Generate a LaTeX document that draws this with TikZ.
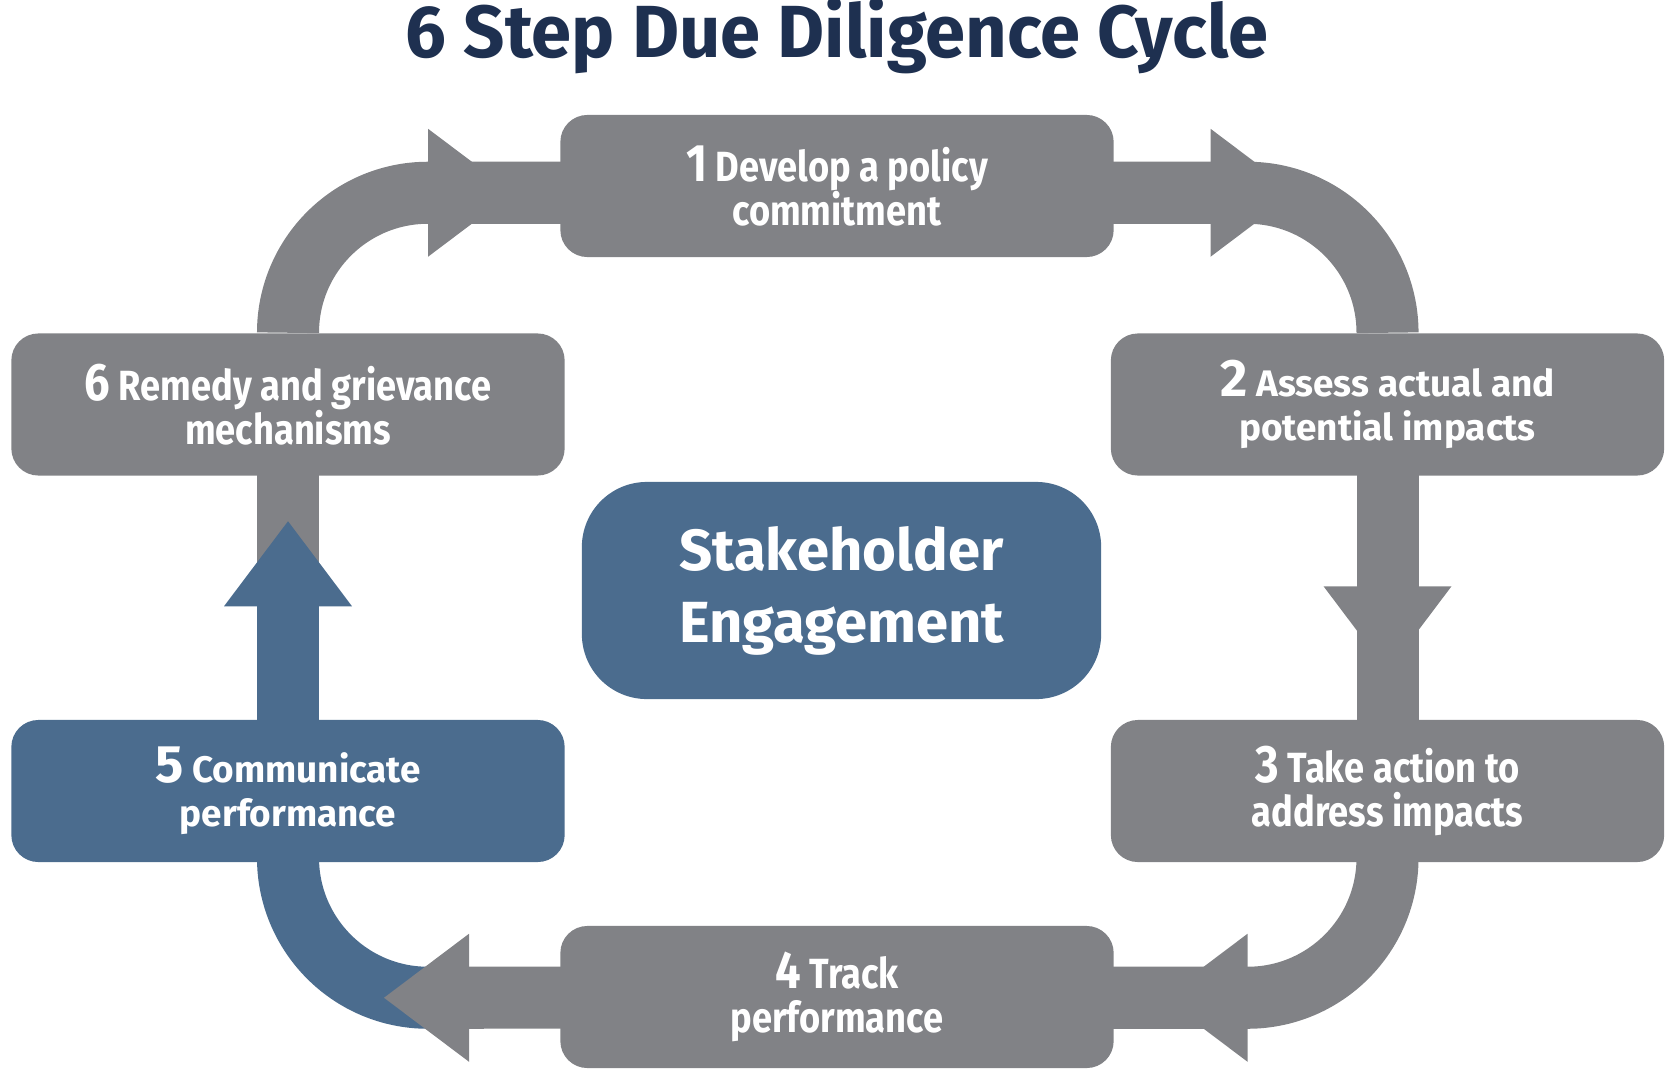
\documentclass[tikz,border=0pt]{standalone}
\usepackage{fontspec}
\setmainfont{Fira Sans}
\newfontfamily\condfont{Fira Sans}[FakeStretch=0.86]
\newfontfamily\titlefont{Fira Sans}[FakeStretch=0.98]
\usetikzlibrary{calc,backgrounds}
\definecolor{stepgray}{RGB}{129,130,134}
\definecolor{stepblue}{RGB}{75,108,142}
\definecolor{titleblue}{RGB}{30,48,80}
\newcommand{\stepno}[1]{{\fontsize{15}{12}\selectfont #1}}
\tikzset{wedge/.pic={\fill (0,-64) -- (85,0) -- (0,64) -- cycle;}}

\begin{document}
\begin{tikzpicture}[x=0.01cm, y=0.01cm,
  box/.style={fill=stepgray, rounded corners=0.27cm, minimum width=5.53cm, minimum height=1.42cm,
    text=white, align=center, font=\condfont\bfseries\fontsize{12}{12.5}\selectfont},
  widebox/.style={box, font=\bfseries\fontsize{10.5}{12.5}\selectfont},
  flow/.style={draw=stepgray, line width=0.62cm}]
  \useasboundingbox (0,0) rectangle (1680,1087);
  \node[font=\titlefont\bfseries\fontsize{21}{24}\selectfont, text=titleblue] (title) at (837,1051) {6 Step Due Diligence Cycle};
  \node[box] (b1) at (837,901) {\stepno{1} Develop a policy\\commitment};
  \node[widebox] (b2) at (1387.5,682.5) {\stepno{2} Assess actual and\\potential impacts};
  \node[box] (b3) at (1387.5,296) {\stepno{3} Take action to\\address impacts};
  \node[box] (b4) at (837,90) {\stepno{4} Track\\performance};
  \node[widebox, fill=stepblue] (b5) at (288,296) {\stepno{5} Communicate\\performance};
  \node[box] (b6) at (288,682.5) {\stepno{6} Remedy and grievance\\mechanisms};
  \node[box, fill=stepblue, minimum width=5.19cm, minimum height=2.17cm, rounded corners=0.65cm,
    font=\bfseries\fontsize{16.5}{20.5}\selectfont] (se) at (841.5,496.5) {Stakeholder\\Engagement};
  \begin{pgfonlayer}{background}
    \draw[flow] (b6.north) arc[start angle=180, end angle=90, radius=140] coordinate (a61) -- (a61 -| b1.center);
    \pic[fill=stepgray] at (a61) {wedge};
    \draw[flow] (b2.north) arc[start angle=0, end angle=90, radius=140] coordinate (a12) -- (a12 -| b1.center);
    \pic[fill=stepgray] at ($(a12)+(-37,0)$) {wedge};
    \draw[flow] (b2.center) -- (b3.center);
    \pic[fill=stepgray, rotate=-90] at ($(b2.south)+(0,-110)$) {wedge};
    \draw[flow] ($(b3.south)+(0,5)$) arc[start angle=0, end angle=-90, radius=140] coordinate (a34) -- (a34 -| b4.center);
    \pic[fill=stepgray, rotate=180] at (a34) {wedge};
    \coordinate (h56) at ($(b5.north)+(0,113)$);
    \draw[flow] (b6.center) -- (h56);
    \draw[flow, draw=stepblue] (b5.center) -- (h56);
    \pic[fill=stepblue, rotate=90] at (h56) {wedge};
    \draw[flow, draw=stepblue] ($(b5.south)+(0,5)$) arc[start angle=180, end angle=270, radius=140] coordinate (a45);
    \draw[flow] ($(a45)+(41,0)$) -- (b4.center);
    \pic[fill=stepgray, rotate=180] at ($(a45)+(41,0)$) {wedge};
  \end{pgfonlayer}
\end{tikzpicture}
\end{document}
